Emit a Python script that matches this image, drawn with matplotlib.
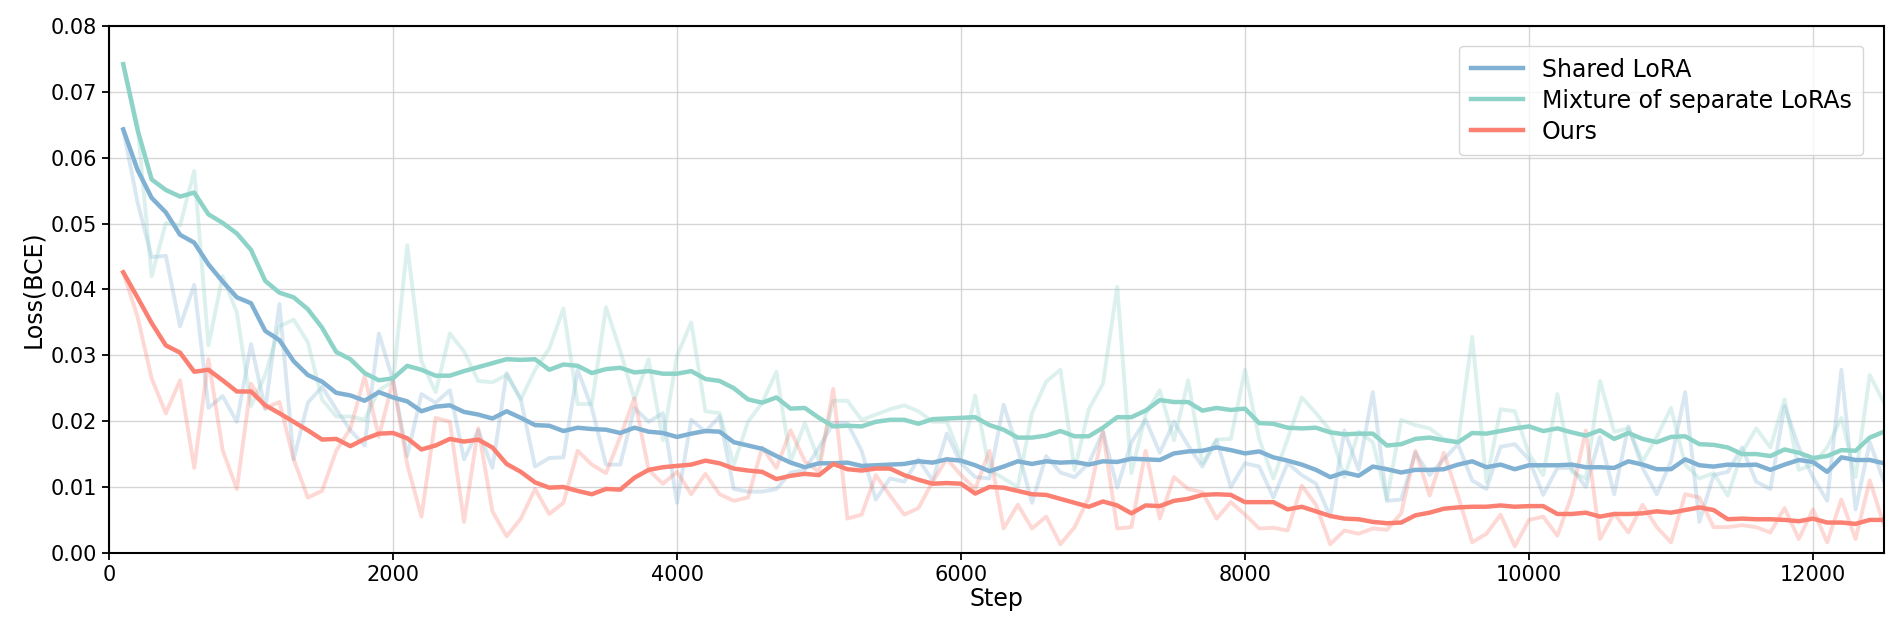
import numpy as np
import matplotlib
matplotlib.use("Agg")
import matplotlib.pyplot as plt

steps = list(range(100, 12600, 100))

shared_smooth = [
0.0643,0.0582,0.0539,0.0517,0.0483,0.0471,0.0438,0.0412,0.0388,0.0379,0.0337,0.0323,0.0291,0.0270,0.0260,0.0243,0.0239,0.0231,0.0244,0.0236,0.0230,
0.0215,0.0222,0.0224,0.0214,0.0210,0.0204,0.0215,0.0205,0.0194,0.0193,0.0185,0.0190,0.0188,0.0187,0.0182,0.0190,0.0184,0.0182,0.0176,0.0181,0.0185,
0.0184,0.0168,0.0163,0.0158,0.0147,0.0137,0.0130,0.0136,0.0136,0.0137,0.0132,0.0133,0.0134,0.0135,0.0139,0.0137,0.0142,0.0140,0.0133,0.0124,0.0131,
0.0139,0.0135,0.0139,0.0137,0.0138,0.0134,0.0139,0.0138,0.0143,0.0142,0.0141,0.0151,0.0154,0.0155,0.0160,0.0156,0.0151,0.0154,0.0145,0.0140,0.0134,
0.0126,0.0115,0.0122,0.0117,0.0131,0.0127,0.0122,0.0126,0.0126,0.0127,0.0134,0.0139,0.0130,0.0134,0.0127,0.0133,0.0133,0.0133,0.0134,0.0130,0.0130,
0.0129,0.0139,0.0134,0.0127,0.0127,0.0142,0.0133,0.0131,0.0134,0.0133,0.0134,0.0126,0.0134,0.0141,0.0138,0.0123,0.0145,0.0141,0.0141,0.0136]

mixture_smooth = [
0.0742,0.0643,0.0567,0.0551,0.0541,0.0547,0.0514,0.0501,0.0485,0.0460,0.0413,0.0395,0.0388,0.0370,0.0342,0.0305,0.0294,0.0273,0.0262,0.0265,0.0284,
0.0278,0.0269,0.0269,0.0276,0.0282,0.0288,0.0294,0.0293,0.0294,0.0278,0.0286,0.0284,0.0273,0.0279,0.0281,0.0274,0.0276,0.0272,0.0272,0.0276,0.0264,
0.0261,0.0250,0.0233,0.0228,0.0236,0.0219,0.0220,0.0205,0.0192,0.0193,0.0192,0.0199,0.0202,0.0202,0.0196,0.0203,0.0204,0.0205,0.0206,0.0194,0.0187,
0.0175,0.0175,0.0178,0.0185,0.0177,0.0177,0.0190,0.0206,0.0206,0.0216,0.0232,0.0229,0.0229,0.0216,0.0220,0.0217,0.0219,0.0197,0.0196,0.0190,0.0189,
0.0190,0.0183,0.0180,0.0181,0.0181,0.0163,0.0165,0.0173,0.0175,0.0171,0.0168,0.0182,0.0181,0.0185,0.0189,0.0192,0.0185,0.0189,0.0183,0.0178,0.0186,
0.0173,0.0182,0.0173,0.0168,0.0176,0.0177,0.0165,0.0164,0.0160,0.0150,0.0150,0.0147,0.0157,0.0152,0.0144,0.0147,0.0156,0.0155,0.0175,0.0184]

ours_smooth = [
0.0426,0.0388,0.0349,0.0315,0.0304,0.0275,0.0278,0.0262,0.0245,0.0245,0.0224,0.0212,0.0199,0.0186,0.0172,0.0173,0.0162,0.0173,0.0181,0.0182,0.0174,
0.0157,0.0163,0.0173,0.0169,0.0172,0.0160,0.0135,0.0123,0.0107,0.0099,0.0100,0.0094,0.0089,0.0097,0.0096,0.0114,0.0126,0.0130,0.0132,0.0134,0.0140,
0.0136,0.0128,0.0125,0.0123,0.0112,0.0117,0.0120,0.0118,0.0135,0.0127,0.0125,0.0128,0.0128,0.0118,0.0111,0.0105,0.0106,0.0105,0.0090,0.0100,0.0099,
0.0094,0.0089,0.0088,0.0082,0.0076,0.0070,0.0078,0.0072,0.0060,0.0072,0.0071,0.0079,0.0082,0.0088,0.0089,0.0088,0.0077,0.0077,0.0077,0.0066,0.0070,
0.0063,0.0056,0.0052,0.0051,0.0047,0.0045,0.0046,0.0057,0.0061,0.0067,0.0069,0.0070,0.0070,0.0072,0.0070,0.0071,0.0071,0.0059,0.0059,0.0061,0.0055,
0.0059,0.0059,0.0060,0.0063,0.0061,0.0065,0.0069,0.0065,0.0051,0.0052,0.0051,0.0051,0.0050,0.0048,0.0052,0.0046,0.0046,0.0044,0.0050,0.0050]

shared_raw = [
0.0643,0.0533,0.0449,0.0451,0.0344,0.0407,0.0220,0.0238,0.0199,0.0317,0.0218,0.0378,0.0142,0.0228,0.0252,0.0218,0.0186,0.0163,0.0333,0.0262,0.0147,
0.0241,0.0228,0.0247,0.0142,0.0186,0.0129,0.0273,0.0233,0.0131,0.0144,0.0145,0.0278,0.0220,0.0134,0.0134,0.0220,0.0199,0.0212,0.0076,0.0202,0.0184,
0.0207,0.0097,0.0093,0.0093,0.0097,0.0122,0.0126,0.0160,0.0197,0.0197,0.0155,0.0081,0.0113,0.0108,0.0142,0.0110,0.0181,0.0136,0.0115,0.0113,0.0225,
0.0157,0.0076,0.0147,0.0122,0.0115,0.0136,0.0184,0.0099,0.0168,0.0202,0.0152,0.0199,0.0163,0.0131,0.0171,0.0100,0.0136,0.0131,0.0084,0.0136,0.0118,
0.0105,0.0055,0.0186,0.0126,0.0244,0.0079,0.0081,0.0152,0.0118,0.0142,0.0165,0.0110,0.0097,0.0161,0.0165,0.0142,0.0088,0.0129,0.0129,0.0100,0.0176,
0.0089,0.0192,0.0129,0.0089,0.0139,0.0244,0.0047,0.0118,0.0123,0.0160,0.0108,0.0097,0.0223,0.0160,0.0115,0.0079,0.0278,0.0066,0.0168,0.0108]

mixture_raw = [
0.0742,0.0650,0.0420,0.0501,0.0497,0.0580,0.0315,0.0420,0.0365,0.0223,0.0270,0.0344,0.0354,0.0320,0.0233,0.0207,0.0207,0.0202,0.0247,0.0260,0.0467,
0.0291,0.0244,0.0333,0.0306,0.0261,0.0259,0.0270,0.0233,0.0278,0.0310,0.0371,0.0226,0.0226,0.0373,0.0307,0.0233,0.0294,0.0171,0.0299,0.0350,0.0215,
0.0212,0.0134,0.0199,0.0228,0.0275,0.0139,0.0197,0.0139,0.0231,0.0231,0.0202,0.0210,0.0218,0.0224,0.0215,0.0199,0.0199,0.0144,0.0239,0.0126,0.0113,
0.0100,0.0212,0.0260,0.0278,0.0126,0.0218,0.0257,0.0404,0.0121,0.0210,0.0247,0.0171,0.0262,0.0136,0.0172,0.0173,0.0278,0.0173,0.0113,0.0173,0.0236,
0.0212,0.0186,0.0115,0.0184,0.0168,0.0081,0.0202,0.0194,0.0189,0.0173,0.0168,0.0328,0.0108,0.0218,0.0215,0.0150,0.0118,0.0241,0.0123,0.0113,0.0261,
0.0184,0.0189,0.0139,0.0176,0.0220,0.0134,0.0113,0.0121,0.0087,0.0152,0.0189,0.0160,0.0233,0.0126,0.0134,0.0160,0.0205,0.0115,0.0270,0.0228]

ours_raw = [
0.0426,0.0359,0.0265,0.0212,0.0262,0.0129,0.0294,0.0156,0.0097,0.0257,0.0220,0.0229,0.0142,0.0084,0.0094,0.0155,0.0189,0.0268,0.0176,0.0262,0.0134,
0.0055,0.0205,0.0199,0.0047,0.0189,0.0063,0.0025,0.0052,0.0097,0.0059,0.0076,0.0155,0.0134,0.0121,0.0176,0.0235,0.0126,0.0105,0.0123,0.0089,0.0120,
0.0089,0.0079,0.0084,0.0160,0.0129,0.0186,0.0139,0.0123,0.0249,0.0052,0.0058,0.0118,0.0087,0.0058,0.0068,0.0108,0.0143,0.0118,0.0097,0.0155,0.0037,
0.0073,0.0037,0.0055,0.0013,0.0039,0.0084,0.0184,0.0037,0.0039,0.0155,0.0052,0.0115,0.0097,0.0092,0.0052,0.0077,0.0058,0.0037,0.0038,0.0034,0.0102,
0.0073,0.0013,0.0034,0.0029,0.0037,0.0035,0.0060,0.0155,0.0087,0.0152,0.0087,0.0016,0.0029,0.0058,0.0010,0.0050,0.0055,0.0026,0.0087,0.0186,0.0021,
0.0060,0.0031,0.0073,0.0039,0.0016,0.0089,0.0084,0.0039,0.0039,0.0042,0.0039,0.0031,0.0068,0.0021,0.0066,0.0016,0.0081,0.0021,0.0110,0.0042]

labels = ["Shared LoRA", "Mixture of separate LoRAs", "Ours"]
colors = ["#80b1d3", "#8dd3c7", "#fb8072"]
raws = [shared_raw, mixture_raw, ours_raw]
smooths = [shared_smooth, mixture_smooth, ours_smooth]

fig = plt.figure(figsize=(19.03, 6.34), dpi=100)
ax = fig.add_axes([0.0573, 0.128, 0.9327, 0.831])

for raw, c in zip(raws, colors):
    ax.plot(steps, raw, color=c, alpha=0.3, linewidth=2.8)
for sm, c, lab in zip(smooths, colors, labels):
    ax.plot(steps, sm, color=c, linewidth=3.2, label=lab)

ax.set_xlim(0, 12500)
ax.set_ylim(0, 0.08)
ax.set_xticks(range(0, 12001, 2000))
ax.set_yticks(np.arange(0, 0.0801, 0.01))
ax.yaxis.set_major_formatter(matplotlib.ticker.FormatStrFormatter('%.2f'))
ax.grid(True, color="#cccccc", linewidth=1.0, alpha=0.8)
ax.set_axisbelow(True)
ax.tick_params(labelsize=15, width=1.3, length=5)
for s in ax.spines.values():
    s.set_linewidth(1.5)
ax.set_xlabel("Step", fontsize=17, labelpad=2)
ax.set_ylabel("Loss(BCE)", fontsize=17, labelpad=4)
ax.legend(loc="upper right", fontsize=17, framealpha=0.8, borderpad=0.5,
          handlelength=2.2, labelspacing=0.3, bbox_to_anchor=(0.995, 0.985))

fig.savefig("out.png", dpi=100)
